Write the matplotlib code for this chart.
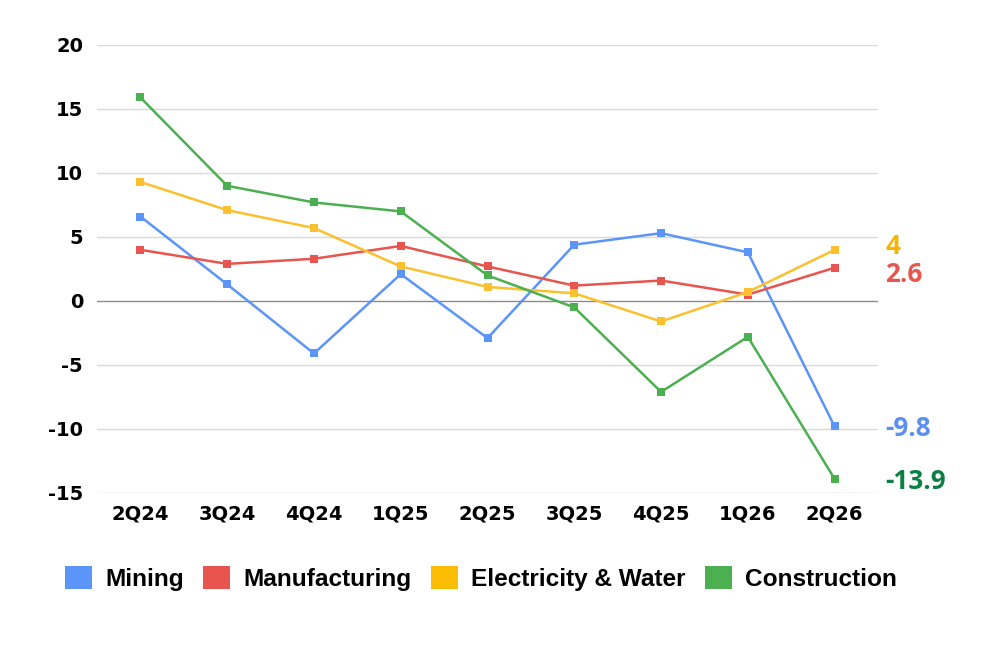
import matplotlib
matplotlib.use("Agg")
import matplotlib.pyplot as plt
from matplotlib.patches import Patch

plt.rcParams["axes.unicode_minus"] = False

quarters = ["2Q24", "3Q24", "4Q24", "1Q25", "2Q25", "3Q25", "4Q25", "1Q26", "2Q26"]
mining = [6.6, 1.3, -4.1, 2.1, -2.9, 4.4, 5.3, 3.8, -9.8]
manufacturing = [4.0, 2.9, 3.3, 4.3, 2.7, 1.2, 1.6, 0.5, 2.6]
electricity = [9.3, 7.1, 5.7, 2.7, 1.1, 0.6, -1.6, 0.7, 4.0]
construction = [15.9, 9.0, 7.7, 7.0, 2.0, -0.5, -7.1, -2.8, -13.9]
series_names = ["Mining", "Manufacturing", "Electricity & Water", "Construction"]
end_labels = ["-9.8", "2.6", "4", "-13.9"]
y_ticks = [20, 15, 10, 5, 0, -5, -10, -15]

colors = ["#5B95F9", "#E8554E", "#FBC02D", "#4CAF50"]
label_colors = ["#5B8FF0", "#E8554E", "#F7B500", "#0B8043"]
legend_colors = ["#5B95F9", "#E8554E", "#FBBC04", "#4CAF50"]
label_dy = [-6.6, -10.1, -3.0, -6.9]  # label baseline offsets (points)

fig = plt.figure(figsize=(9.97, 6.64), dpi=100)
ax = fig.add_axes([97/997, 1-493/664, (878-97)/997, (493-45)/664])

x = list(range(len(quarters)))
data = [mining, manufacturing, electricity, construction]
for vals, c in zip(data, colors):
    ax.plot(x, vals, color=c, lw=1.8, marker="s", ms=6.3, markeredgewidth=0, zorder=3)

ax.set_xlim(-0.5, len(quarters) - 0.5)
ax.set_ylim(-15, 20)
ax.set_yticks(y_ticks)
ax.set_xticks(x)
ax.set_xticklabels(quarters)
for t in y_ticks:
    ax.axhline(t, color="#8a8a8a" if t == 0 else "#d9d9d9", lw=1, zorder=1)
for s in ax.spines.values():
    s.set_visible(False)
ax.tick_params(length=0)
ax.tick_params(axis="y", pad=10)
ax.tick_params(axis="x", pad=8)
for lab in ax.get_xticklabels() + ax.get_yticklabels():
    lab.set_fontfamily("DejaVu Sans")
    lab.set_fontweight("bold")
    lab.set_fontsize(14)

for vals, txt, c, dy in zip(data, end_labels, label_colors, label_dy):
    ax.annotate(txt, (x[-1], vals[-1]), xytext=(36.5, dy), textcoords="offset points",
                ha="left", va="baseline", color=c, fontsize=18.8, fontweight="bold",
                fontfamily="Open Sans", annotation_clip=False)

handles = [Patch(facecolor=c, edgecolor="none") for c in legend_colors]
leg = fig.legend(handles, series_names, loc="center", bbox_to_anchor=(481/997, 1-578.5/664),
                 ncol=4, frameon=False, handlelength=1.1, handleheight=1.1,
                 handletextpad=0.55, columnspacing=0.78, borderpad=0,
                 prop={"family": "Liberation Sans", "weight": "bold", "size": 17.6})

fig.savefig("out.png", dpi=100, facecolor="white")
